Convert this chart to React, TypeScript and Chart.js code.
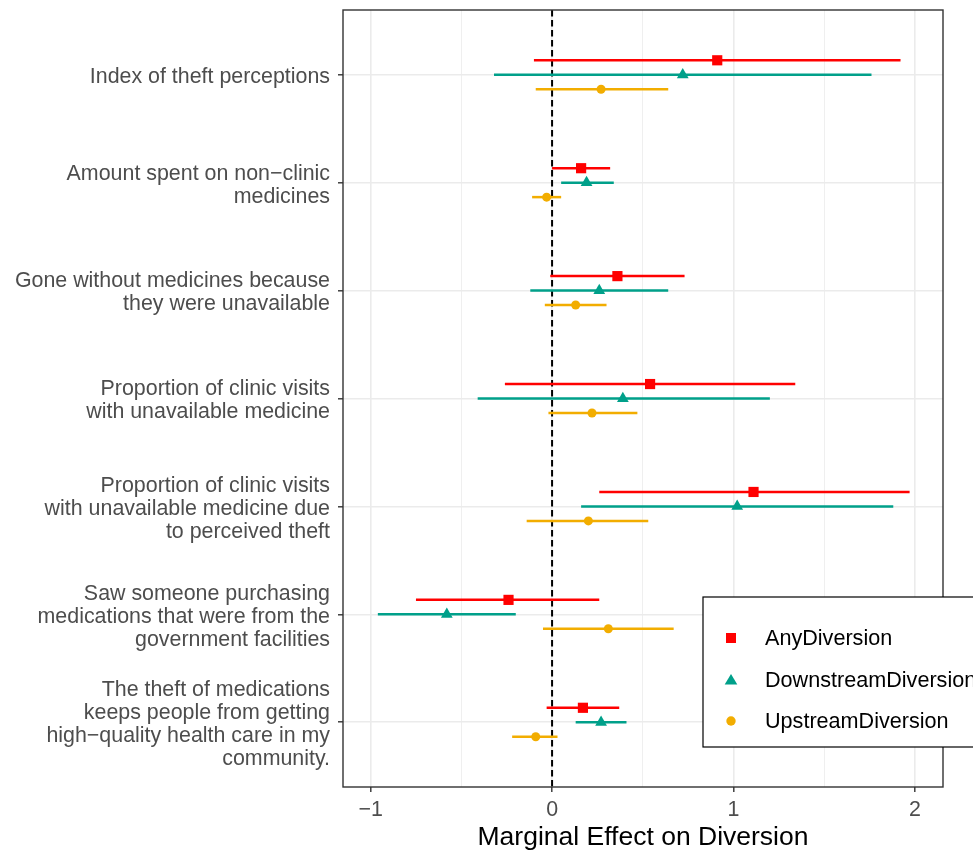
import React, { useEffect, useRef } from "react";
import { Chart, registerables } from "chart.js";
Chart.register(...registerables);

const categories: string[][] = [
  ["Index of theft perceptions"],
  ["Amount spent on non\u2212clinic", "medicines"],
  ["Gone without medicines because", "they were unavailable"],
  ["Proportion of clinic visits", "with unavailable medicine"],
  ["Proportion of clinic visits", "with unavailable medicine due", "to perceived theft"],
  ["Saw someone purchasing", "medications that were from the", "government facilities"],
  ["The theft of medications", "keeps people from getting", "high\u2212quality health care in my", "community."],
];

const seriesNames = ["AnyDiversion", "DownstreamDiversion", "UpstreamDiversion"];

const anyEst = [0.91, 0.16, 0.36, 0.54, 1.11, -0.24, 0.17];
const anyLo = [-0.10, 0.0, -0.01, -0.26, 0.26, -0.75, -0.03];
const anyHi = [1.92, 0.32, 0.73, 1.34, 1.97, 0.26, 0.37];

const downEst = [0.72, 0.19, 0.26, 0.39, 1.02, -0.58, 0.27];
const downLo = [-0.32, 0.05, -0.12, -0.41, 0.16, -0.96, 0.13];
const downHi = [1.76, 0.34, 0.64, 1.20, 1.88, -0.20, 0.41];

const upEst = [0.27, -0.03, 0.13, 0.22, 0.20, 0.31, -0.09];
const upLo = [-0.09, -0.11, -0.04, -0.02, -0.14, -0.05, -0.22];
const upHi = [0.64, 0.05, 0.30, 0.47, 0.53, 0.67, 0.03];

const xTicks = [-1, 0, 1, 2];

const COLORS = ["#FF0000", "#00A08A", "#F2AD00"];
const STYLES = ["rect", "triangle", "circle"];
const RADII = [7.2, 6.8, 4.5];
const DODGE = [-0.134, 0, 0.134];
const FONT = "'Liberation Sans', Arial, Helvetica, sans-serif";

const series = [
  { est: anyEst, lo: anyLo, hi: anyHi },
  { est: downEst, lo: downLo, hi: downHi },
  { est: upEst, lo: upLo, hi: upHi },
];

const isInt = (v: number) => Math.abs(v - Math.round(v)) < 1e-6;
const fmt = (v: number) => (v < 0 ? "\u2212" + Math.abs(v) : String(v));

const forestPlugin = {
  id: "forest",
  beforeDatasetsDraw(chart: any) {
    const { ctx, chartArea, scales } = chart;
    const xs = scales.x;
    const ys = scales.y;
    ctx.save();
    ctx.beginPath();
    ctx.rect(chartArea.left, chartArea.top, chartArea.right - chartArea.left, chartArea.bottom - chartArea.top);
    ctx.clip();
    const x0 = xs.getPixelForValue(0);
    ctx.beginPath();
    ctx.setLineDash([6.5, 3.5]);
    ctx.strokeStyle = "#000000";
    ctx.lineWidth = 2;
    ctx.moveTo(x0, chartArea.top);
    ctx.lineTo(x0, chartArea.bottom);
    ctx.stroke();
    ctx.setLineDash([]);
    series.forEach((s, si) => {
      ctx.strokeStyle = COLORS[si];
      ctx.lineWidth = 2.5;
      s.est.forEach((_, i) => {
        const y = ys.getPixelForValue(i + 1 + DODGE[si]);
        ctx.beginPath();
        ctx.moveTo(xs.getPixelForValue(s.lo[i]), y);
        ctx.lineTo(xs.getPixelForValue(s.hi[i]), y);
        ctx.stroke();
      });
    });
    ctx.restore();
  },
  afterDatasetsDraw(chart: any) {
    const { ctx, chartArea } = chart;
    ctx.save();
    ctx.strokeStyle = "#333333";
    ctx.lineWidth = 1.4;
    ctx.strokeRect(chartArea.left, chartArea.top, chartArea.right - chartArea.left, chartArea.bottom - chartArea.top);
    ctx.restore();
  },
  afterDraw(chart: any) {
    const { ctx, chartArea } = chart;
    const left = chartArea.right - 240;
    const top = 597;
    const bottom = 747;
    ctx.save();
    ctx.fillStyle = "#ffffff";
    ctx.fillRect(left, top, 400, bottom - top);
    ctx.strokeStyle = "#000000";
    ctx.lineWidth = 1.2;
    ctx.strokeRect(left, top, 400, bottom - top);
    const ys = [638, 680, 721];
    seriesNames.forEach((name, i) => {
      const cx = left + 28;
      const cy = ys[i];
      ctx.fillStyle = COLORS[i];
      ctx.beginPath();
      if (i === 0) {
        ctx.rect(cx - 5, cy - 5, 10, 10);
      } else if (i === 1) {
        ctx.moveTo(cx, cy - 6);
        ctx.lineTo(cx + 6.3, cy + 4.5);
        ctx.lineTo(cx - 6.3, cy + 4.5);
        ctx.closePath();
      } else {
        ctx.arc(cx, cy, 4.7, 0, Math.PI * 2);
      }
      ctx.fill();
      ctx.fillStyle = "#000000";
      ctx.font = `21.6px ${FONT}`;
      ctx.textBaseline = "middle";
      ctx.textAlign = "left";
      ctx.fillText(name, left + 62, cy + 1);
    });
    ctx.restore();
  },
};

const zeroPad = (scale: any) => {
  scale.paddingTop = 0;
  scale.paddingBottom = 0;
  scale.paddingLeft = 0;
  scale.paddingRight = 0;
};

export default function App() {
  const ref = useRef<HTMLCanvasElement | null>(null);
  useEffect(() => {
    if (!ref.current) return;
    const datasets = series.map((s, si) => ({
      label: seriesNames[si],
      data: s.est.map((v, i) => ({ x: v, y: i + 1 + DODGE[si] })),
      pointStyle: STYLES[si],
      pointRadius: RADII[si],
      pointHoverRadius: RADII[si],
      pointBackgroundColor: COLORS[si],
      pointBorderColor: COLORS[si],
      pointBorderWidth: 0,
      backgroundColor: COLORS[si],
      borderColor: COLORS[si],
      showLine: false,
    }));
    const chart = new Chart(ref.current, {
      type: "scatter",
      data: { datasets } as any,
      plugins: [forestPlugin],
      options: {
        animation: false,
        responsive: false,
        devicePixelRatio: 1,
        layout: { padding: { top: 10, right: 30, left: 0, bottom: 0 } },
        plugins: { legend: { display: false }, tooltip: { enabled: false } },
        scales: {
          x: {
            type: "linear",
            min: -1.152,
            max: 2.154,
            afterBuildTicks: (scale: any) => {
              const t: any[] = [];
              for (let v = -1; v <= 2; v += 0.5) t.push({ value: v });
              scale.ticks = t;
            },
            afterFit: (scale: any) => {
              scale.height = 64;
              zeroPad(scale);
            },
            ticks: {
              autoSkip: false,
              maxRotation: 0,
              padding: 5,
              color: "#4d4d4d",
              font: { family: FONT, size: 21.4 },
              callback: (v: any) => (isInt(Number(v)) && xTicks.includes(Math.round(Number(v))) ? fmt(Math.round(Number(v))) : ""),
            },
            grid: {
              color: "#ebebeb",
              lineWidth: (c: any) => (isInt(c.tick?.value ?? 0) ? 1.6 : 0.8),
              tickColor: (c: any) => (isInt(c.tick?.value ?? 0) ? "#333333" : "rgba(0,0,0,0)"),
              tickLength: 5,
              tickWidth: 1.4,
            },
            border: { display: false },
            title: {
              display: true,
              text: "Marginal Effect on Diversion",
              color: "#000000",
              font: { family: FONT, size: 26.5 },
              padding: { top: 0, bottom: -3 },
            },
          },
          y: {
            type: "linear",
            min: 0.4,
            max: 7.6,
            reverse: true,
            afterBuildTicks: (scale: any) => {
              scale.ticks = categories.map((_, i) => ({ value: i + 1 }));
            },
            afterFit: (scale: any) => {
              scale.width = 343;
              zeroPad(scale);
            },
            ticks: {
              autoSkip: false,
              padding: 8,
              labelOffset: 2.5,
              color: "#4d4d4d",
              font: { family: FONT, size: 21.4, lineHeight: "23px" },
              callback: (v: any) => categories[Math.round(Number(v)) - 1] ?? "",
            },
            grid: {
              color: "#ebebeb",
              lineWidth: 1.6,
              tickColor: "#333333",
              tickLength: 5,
              tickWidth: 1.4,
            },
            border: { display: false },
          },
        },
      } as any,
    });
    return () => chart.destroy();
  }, []);
  return (
    <div style={{ position: "absolute", left: 0, top: 0, width: 973, height: 851, background: "#ffffff" }}>
      <canvas ref={ref} width={973} height={851} style={{ width: 973, height: 851 }} />
    </div>
  );
}
